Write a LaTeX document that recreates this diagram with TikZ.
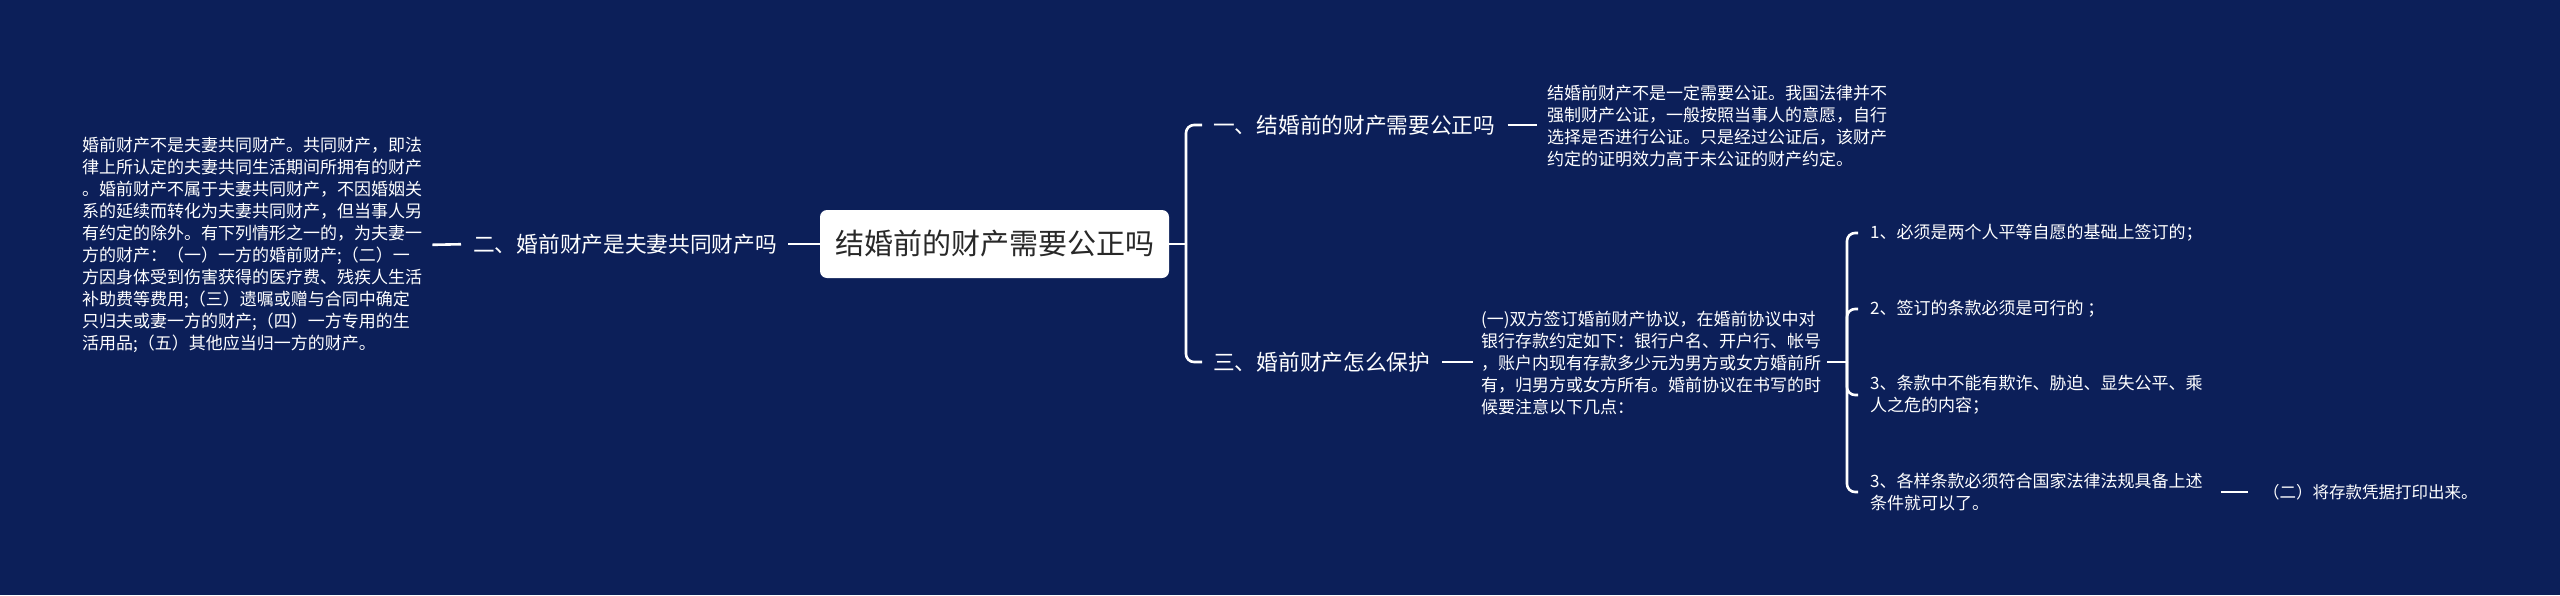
\documentclass[tikz,border=0pt]{standalone}
\usepackage{fontspec}
\setmainfont{Noto Sans CJK SC}
\definecolor{bg}{RGB}{12,31,89}
\definecolor{roottext}{RGB}{40,40,40}
\begin{document}
\begin{tikzpicture}[x=1pt,y=-1pt,
  conn/.style={draw=white,line width=2.6pt},
  brace/.style={draw=white,line width=2.6pt,rounded corners=8pt},
  rootbox/.style={fill=white,rounded corners=7pt,minimum width=349pt,minimum height=68pt,inner sep=0pt,text=roottext,font=\fontsize{29}{34}\selectfont},
  branch/.style={text=white,inner sep=0pt,anchor=west,font=\fontsize{21.7}{26}\selectfont},
  para/.style={text=white,inner sep=0pt,anchor=west,align=left,font=\fontsize{17}{22}\selectfont},
]
\fill[bg] (0,0) rectangle (2560,595);
\useasboundingbox (0,0) rectangle (2560,595);

\node[rootbox] (root) at (994.5,244) {结婚前的财产需要公正吗};

\node[branch] (b2) at (473,244) {二、婚前财产是夫妻共同财产吗};
\node[para] (lp) at (82,245) {婚前财产不是夫妻共同财产。共同财产，即法\\律上所认定的夫妻共同生活期间所拥有的财产\\。婚前财产不属于夫妻共同财产，不因婚姻关\\系的延续而转化为夫妻共同财产，但当事人另\\有约定的除外。有下列情形之一的，为夫妻一\\方的财产：（一）一方的婚前财产;（二）一\\方因身体受到伤害获得的医疗费、残疾人生活\\补助费等费用;（三）遗嘱或赠与合同中确定\\只归夫或妻一方的财产;（四）一方专用的生\\活用品;（五）其他应当归一方的财产。};

\coordinate (J1) at (1186,244);
\node[branch] (b1) at (1213,125) {一、结婚前的财产需要公正吗};
\node[branch] (b3) at (1213,362) {三、婚前财产怎么保护};

\node[para] (p1) at (1547,126) {结婚前财产不是一定需要公证。我国法律并不\\强制财产公证，一般按照当事人的意愿，自行\\选择是否进行公证。只是经过公证后，该财产\\约定的证明效力高于未公证的财产约定。};
\node[para] (p2) at (1481,363) {(一)双方签订婚前财产协议，在婚前协议中对\\银行存款约定如下：银行户名、开户行、帐号\\，账户内现有存款多少元为男方或女方婚前所\\有，归男方或女方所有。婚前协议在书写的时\\候要注意以下几点：};

\coordinate (J2) at (1847,362);
\node[para] (i1) at (1870,233) {1、必须是两个人平等自愿的基础上签订的；};
\node[para] (i2) at (1870,309) {2、签订的条款必须是可行的 ；};
\node[para] (i3) at (1870,395) {3、条款中不能有欺诈、胁迫、显失公平、乘\\人之危的内容；};
\node[para] (i4) at (1870,492) {3、各样条款必须符合国家法律法规具备上述\\条件就可以了。};
\node[para,font=\fontsize{16.5}{22}\selectfont] (c) at (2263,492) {（二）将存款凭据打印出来。};

\draw[conn,shorten <=10pt,shorten >=12pt] (lp.east) -- (b2.west);
\draw[conn,shorten <=11pt] (b2.east) -- (root.west);
\draw[conn] (root.east) -- (J1);
\draw[brace,shorten >=11pt] (J1) |- (b1.west);
\draw[brace,shorten >=11pt] (J1) |- (b3.west);
\draw[conn,shorten <=12pt,shorten >=10pt] (b1.east) -- (b1.east -| p1.west);
\draw[conn,shorten <=12pt,shorten >=8pt] (b3.east) -- (b3.east -| p2.west);
\draw[conn,shorten <=6pt] (p2.east |- J2) -- (J2);
\draw[brace,shorten >=12pt] (J2) |- (i1.west);
\draw[brace,shorten >=12pt] (J2) |- (i2.west);
\draw[brace,shorten >=12pt] (J2) |- (i3.west);
\draw[brace,shorten >=12pt] (J2) |- (i4.west);
\draw[conn,shorten <=18pt,shorten >=15pt] (i4.east) -- (c.west);
\end{tikzpicture}
\end{document}
